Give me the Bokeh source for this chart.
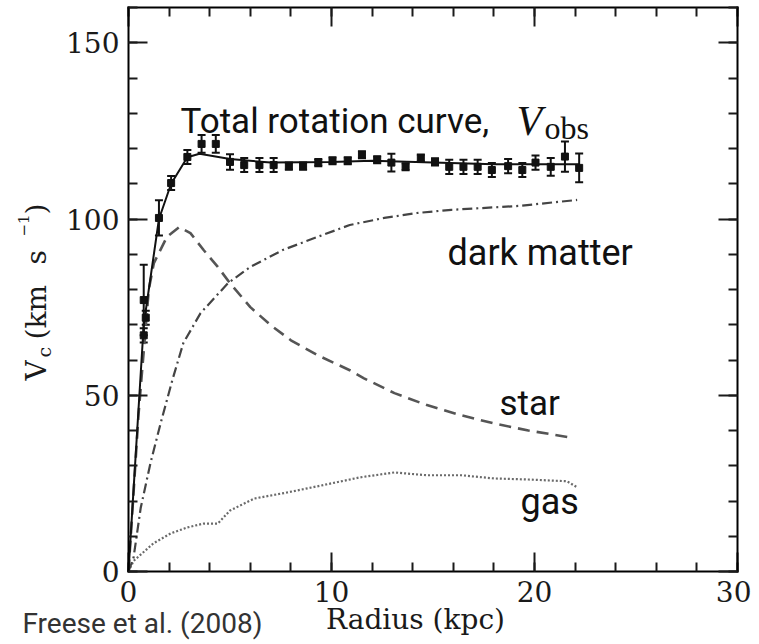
import math
from bokeh.plotting import figure
from bokeh.models import (ColumnDataSource, Whisker, TeeHead, Label, LinearAxis,
                          SingleIntervalTicker, Range1d)
from bokeh.embed import file_html
from bokeh.resources import INLINE

# ---------------- data ----------------
r_obs = [0.75, 0.85, 0.75, 1.5, 2.1, 2.9, 3.6, 4.3, 5.0, 5.7, 6.45, 7.15, 7.9, 8.6,
         9.35, 10.05, 10.8, 11.5, 12.25, 12.95, 13.65, 14.4, 15.1, 15.8, 16.5, 17.2,
         17.9, 18.7, 19.4, 20.05, 20.8, 21.5, 22.2]
v_obs = [77, 72, 67, 100.3, 110.2, 117.6, 121.3, 121.3, 116.2, 115.3, 115.3, 115.3,
         115.0, 115.0, 116.0, 116.5, 116.5, 118.2, 116.8, 116.0, 114.8, 117.3, 116.2,
         114.8, 114.8, 114.8, 113.9, 115.0, 113.9, 116.0, 114.8, 117.7, 114.5]
e_obs = [10, 2, 2, 5, 2, 2, 2.5, 2.5, 2.2, 2, 2, 2, 1, 1, 1, 1, 1, 1, 1, 2.5, 1, 1,
         1, 2, 2, 2, 2, 2, 2, 2, 2.5, 4.3, 4.1]

r_tot = [0, 0.3, 0.75, 1.5, 2.1, 2.9, 3.5, 5.0, 7.0, 10.0, 12.0, 15.0, 18.0, 22.2]
v_tot = [0, 28, 70, 100, 110, 117.5, 118.5, 117.0, 116.0, 116.2, 116.5, 116.0, 115.5, 115.5]

r_star = [0, 0.5, 1.0, 1.25, 1.9, 2.5, 3.05, 3.7, 4.4, 5.0, 6.0, 7.0, 8.0, 9.3, 10.9,
          11.6, 13.1, 14.7, 16.4, 18.0, 19.7, 21.8]
v_star = [0, 45, 80, 87.5, 95, 97.7, 96, 91.2, 86.4, 81.8, 75, 69.9, 65.6, 61.4, 57.1,
          54.8, 50.6, 47.2, 44.3, 42, 40, 38]

r_dm = [0, 0.25, 0.6, 1.08, 1.58, 2.17, 2.7, 3.55, 4.9, 6.0, 7.6, 9.3, 10.9, 12.6,
        14.2, 15.9, 19.2, 22.1]
v_dm = [0, 4, 18, 30.7, 42, 54.5, 64.8, 73.3, 81.8, 86.4, 91.2, 94.9, 98.3, 100.3,
        101.7, 102.6, 103.7, 105.4]

r_gas = [0, 0.25, 1.23, 2.07, 2.9, 3.7, 4.4, 5.0, 6.2, 7.8, 9.5, 11.4, 13.1, 14.7,
         16.4, 18.0, 19.7, 21.6, 22.1]
v_gas = [0, 3, 8, 10.8, 12.5, 13.6, 13.6, 17.3, 20.7, 22.4, 24.4, 26.7, 28.1, 27.3,
         27.3, 26.4, 26.1, 25.6, 23.9]

x_ticks_label = ["0", "10", "20", "30"]
y_ticks_label = ["0", "50", "100", "150"]

# ---------------- geometry ----------------
# The frame covers the whole canvas; the plot box is drawn by axes placed at
# fixed data locations, so that every text can sit outside the box unclipped.
W, H = 751, 640
XMIN, XMAX, YMIN, YMAX = 0, 30, 0, 160
PX_X0, PX_X1 = 128, 737     # canvas x of XMIN / XMAX
PX_Y0, PX_Y1 = 571, 7       # canvas y of YMIN / YMAX


def dx(px):  # canvas pixel -> data x
    return XMIN + (px - PX_X0) / (PX_X1 - PX_X0) * (XMAX - XMIN)


def dy(py):  # canvas pixel -> data y
    return YMIN + (PX_Y0 - py) / (PX_Y0 - PX_Y1) * (YMAX - YMIN)


p = figure(width=W, height=H, output_backend="svg", toolbar_location=None,
           x_range=Range1d(dx(0), dx(W)), y_range=Range1d(dy(H), dy(0)),
           min_border=0, x_axis_type=None, y_axis_type=None)
p.grid.visible = False
p.outline_line_color = None
p.background_fill_color = "white"
p.border_fill_color = "white"

SERIF = "DejaVu Serif"
INK = "#1a1a1a"


def make_axis(interval, labels, show, loc, bounds):
    ax = LinearAxis(ticker=SingleIntervalTicker(interval=interval, num_minor_ticks=5),
                    fixed_location=loc, bounds=bounds)
    ax.axis_line_color = "black"
    ax.axis_line_width = 2
    ax.axis_line_cap = "square"
    ax.major_tick_in = 19
    ax.major_tick_out = 0
    ax.minor_tick_in = 9
    ax.minor_tick_out = 0
    ax.major_tick_line_width = 2
    ax.minor_tick_line_width = 2
    ax.major_tick_line_color = INK
    ax.minor_tick_line_color = INK
    if show:
        ax.major_label_overrides = {i * interval: s for i, s in enumerate(labels)}
        ax.major_label_text_font = SERIF
        ax.major_label_text_font_size = "28px"
        ax.major_label_text_color = INK
        ax.major_label_standoff = 9
    else:
        ax.major_label_text_font_size = "0px"
        ax.major_label_standoff = 0
        ax.major_label_text_alpha = 0
    return ax


p.add_layout(make_axis(10, x_ticks_label, True, YMIN, (XMIN, XMAX)), "below")
p.add_layout(make_axis(50, y_ticks_label, True, XMIN, (YMIN, YMAX)), "left")
p.add_layout(make_axis(10, x_ticks_label, False, YMAX, (XMIN, XMAX)), "above")
p.add_layout(make_axis(50, y_ticks_label, False, XMAX, (YMIN, YMAX)), "right")

# ---------------- curves ----------------
p.line(r_gas, v_gas, line_color="#6a6a6a", line_width=2.2, line_dash="2 2")
p.line(r_dm, v_dm, line_color="#444444", line_width=2.2, line_dash="10 4 2 4")
p.line(r_star, v_star, line_color="#555555", line_width=2.6, line_dash="12 7")
p.line(r_tot, v_tot, line_color="#111111", line_width=2)

# ---------------- observed points ----------------
src = ColumnDataSource(dict(r=r_obs, v=v_obs,
                            lo=[v - e for v, e in zip(v_obs, e_obs)],
                            hi=[v + e for v, e in zip(v_obs, e_obs)]))
wh = Whisker(source=src, base="r", lower="lo", upper="hi", dimension="height",
             line_color="#111111", line_width=2,
             upper_head=TeeHead(size=8, line_color="#111111", line_width=2),
             lower_head=TeeHead(size=8, line_color="#111111", line_width=2))
p.add_layout(wh)
p.scatter("r", "v", source=src, marker="square", size=7, color="#111111")

# ---------------- texts ----------------
SANS = "Roboto"
TXT = "#111111"
SHIFT = {SANS: 0.27, SERIF: 0.25, "Liberation Serif": 0.3}  # baseline correction (em)


def lab(text, px, py, font, size, style="normal", color=TXT, rotated=False,
        align="left", baseline="alphabetic"):
    """px, py: canvas position of the text baseline start."""
    s = SHIFT[font] * size if baseline == "alphabetic" else 0.0
    if rotated:
        x, y, ang = dx(px - s), dy(py), math.pi / 2
    else:
        x, y, ang = dx(px), dy(py - s), 0.0
    p.add_layout(Label(x=x, y=y, text=text, text_font=font,
                       text_font_size=f"{size}px", text_font_style=style,
                       text_color=color, angle=ang, text_align=align,
                       text_baseline=baseline))


lab("Total rotation curve,", 180, 130, SANS, 35)
lab("V", 516, 133, "Liberation Serif", 42, style="italic")
lab("obs", 544, 137, "Liberation Serif", 32)
lab("dark matter", 447, 262, SANS, 36)
lab("star", 499, 412, SANS, 35)
lab("gas", 520, 511, SANS, 36)

# x-axis title
lab("Radius (kpc)", 415, 626, SERIF, 28, align="center", color=INK)

# y-axis title, rotated, built from pieces
lab("V", 43, 380, SERIF, 28, rotated=True, color=INK)
lab("c", 48, 357, SERIF, 19, rotated=True, color=INK)
lab("(km", 43, 339, SERIF, 28, rotated=True, color=INK)
lab("s", 43, 264, SERIF, 28, rotated=True, color=INK)
lab("\u22121", 27, 236, SERIF, 15, rotated=True, color=INK)
lab(")", 43, 214, SERIF, 28, rotated=True, color=INK)

# citation
lab("Freese et al. (2008)", 22, 639, SANS, 28, color="#333333", baseline="bottom")

open("out.html", "w").write(file_html(p, INLINE))
